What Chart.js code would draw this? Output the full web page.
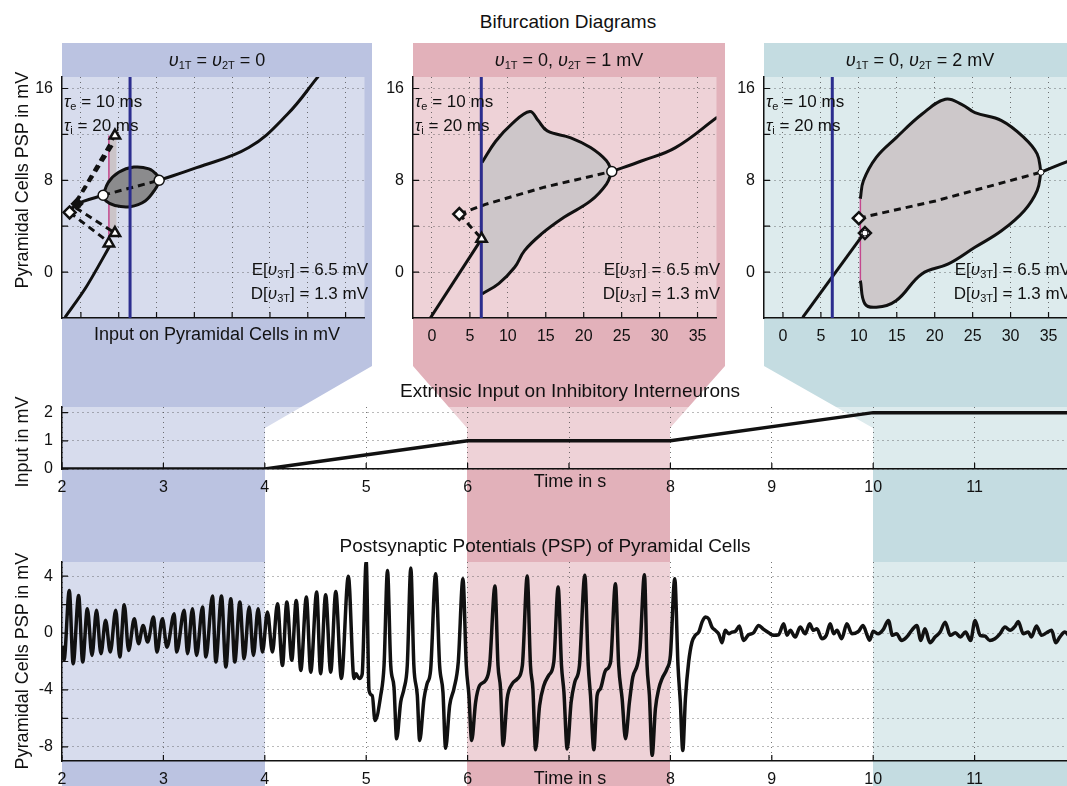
<!DOCTYPE html>
<html>
<head>
<meta charset="utf-8">
<script src="https://cdn.jsdelivr.net/npm/chart.js@4.4.0/dist/chart.umd.min.js"></script>
<style>
  body { margin: 0; width: 1067px; height: 786px; overflow: hidden; background: #fff; position: relative;
         font-family: "Liberation Sans", Arial, sans-serif; color: #111; }
  svg, canvas { position: absolute; }
  .t { position: absolute; white-space: nowrap; transform: translate(-50%, -50%); z-index: 3; }
  .r { position: absolute; white-space: nowrap; transform: translate(-50%, -50%) rotate(-90deg); z-index: 3; font-size: 18px; }
  .l { position: absolute; white-space: nowrap; z-index: 3; font-size: 17px; line-height: 20px; }
  sub { font-size: 11px; vertical-align: -3px; }
  .ttl { font-size: 19px; }
</style>
</head>
<body>

<!-- coloured bands linking the bifurcation panels to the time windows -->
<svg width="1090" height="786" style="left:0;top:0;z-index:0">
  <polygon points="62,43 372,43 372,366 265,428 265,786 62,786" fill="#bbc3e1"/>
  <polygon points="413,43 725,43 725,366 670,428 670,786 467,786 467,428 413,366" fill="#e2b1ba"/>
  <polygon points="764,43 1090,43 1090,786 873,786 873,428 764,366" fill="#c4dce1"/>
</svg>

<canvas id="bif1" width="351" height="291" style="left:22px;top:57px;z-index:1"></canvas>
<canvas id="bif2" width="352" height="291" style="left:373px;top:57px;z-index:1"></canvas>
<canvas id="bif3" width="352" height="291" style="left:724px;top:57px;z-index:1"></canvas>
<canvas id="input" width="1054" height="112" style="left:22px;top:387px;z-index:1"></canvas>
<canvas id="psp" width="1054" height="244" style="left:22px;top:542px;z-index:1"></canvas>

<div class="t ttl" style="left:568px;top:22px">Bifurcation Diagrams</div>
<div class="t" style="left:217px;top:60px;font-size:18px"><i>υ</i><sub>1T</sub> = <i>υ</i><sub>2T</sub> = 0</div>
<div class="t" style="left:569px;top:60px;font-size:18px"><i>υ</i><sub>1T</sub> = 0, <i>υ</i><sub>2T</sub> = 1 mV</div>
<div class="t" style="left:920px;top:60px;font-size:18px"><i>υ</i><sub>1T</sub> = 0, <i>υ</i><sub>2T</sub> = 2 mV</div>

<div class="l" style="left:64px;top:92px"><i>τ</i><sub>e</sub> = 10 ms<br><i>τ</i><sub>i</sub> = 20 ms</div>
<div class="l" style="left:415px;top:92px"><i>τ</i><sub>e</sub> = 10 ms<br><i>τ</i><sub>i</sub> = 20 ms</div>
<div class="l" style="left:766px;top:92px"><i>τ</i><sub>e</sub> = 10 ms<br><i>τ</i><sub>i</sub> = 20 ms</div>
<div class="l" style="right:699px;top:260px;text-align:right">E[<i>υ</i><sub>3T</sub>] = 6.5 mV<br>D[<i>υ</i><sub>3T</sub>] = 1.3 mV</div>
<div class="l" style="right:347px;top:260px;text-align:right">E[<i>υ</i><sub>3T</sub>] = 6.5 mV<br>D[<i>υ</i><sub>3T</sub>] = 1.3 mV</div>
<div class="l" style="left:1071px;top:260px;text-align:right;transform:translateX(-100%)">E[<i>υ</i><sub>3T</sub>] = 6.5 mV<br>D[<i>υ</i><sub>3T</sub>] = 1.3 mV</div>

<div class="t" style="left:217px;top:334px;font-size:18px">Input on Pyramidal Cells in mV</div>
<div class="r" style="left:22px;top:180px">Pyramidal Cells PSP in mV</div>

<div class="t ttl" style="left:570px;top:391px">Extrinsic Input on Inhibitory Interneurons</div>
<div class="r" style="left:22px;top:442px">Input in mV</div>
<div class="t" style="left:570px;top:481px;font-size:18px">Time in s</div>

<div class="t ttl" style="left:545px;top:546px">Postsynaptic Potentials (PSP) of Pyramidal Cells</div>
<div class="r" style="left:22px;top:661px">Pyramidal Cells PSP in mV</div>
<div class="t" style="left:570px;top:778px;font-size:18px">Time in s</div>

<script>
// ---- axes ----
const bifXTicks = [0, 5, 10, 15, 20, 25, 30, 35];
const bifYTicks = [0, 4, 8, 12, 16];
const timeTicks = [2, 3, 4, 5, 6, 7, 8, 9, 10, 11];
const inputYTicks = [0, 1, 2];
const pspYTicks = [-8, -6, -4, -2, 0, 2, 4];

// ---- extrinsic input on inhibitory interneurons ----
const inputTime = [2, 4, 6, 8, 10, 12];
const inputValue = [0, 0, 1, 1, 2, 2];

// ---- PSP of pyramidal cells, [time s, mV] ----
const pspPoints = [
  [2.0,-0.9],[2.02,-1.9],[2.072,3.0],[2.11,-2.16],[2.164,2.65],[2.204,-2.04],[2.25,1.71],[2.296,-1.57],
  [2.34,1.6],[2.384,-1.45],[2.43,0.9],[2.476,-1.34],[2.53,1.6],[2.57,-1.69],[2.614,2.0],[2.657,-1.22],
  [2.713,1.0],[2.755,-0.75],[2.80,0.54],[2.844,-0.63],[2.903,1.13],[2.936,-1.34],[2.99,1.0],[3.035,-0.99],
  [3.107,1.36],[3.13,-1.34],[3.205,1.6],[3.238,-1.45],[3.287,1.71],[3.327,-1.57],[3.386,1.83],[3.419,-1.69],
  [3.484,2.6],[3.517,-2.04],[3.573,2.6],[3.616,-2.39],[3.665,2.42],[3.704,-2.04],[3.754,2.18],[3.796,-1.81],
  [3.846,1.83],[3.888,-1.57],[3.934,1.71],[3.977,-1.34],[4.026,1.48],[4.075,-1.34],[4.125,2.07],[4.174,-2.28],
  [4.217,2.18],[4.266,-1.92],[4.31,2.3],[4.355,-2.63],[4.41,2.54],[4.453,-2.75],[4.512,2.89],[4.55,-2.86],
  [4.60,2.7],[4.65,-2.75],[4.70,2.93],[4.755,-3.2],[4.824,4.0],[4.88,-3.2],[4.90,-2.86],[4.93,-3.2],
  [4.96,-2.9],[5.0,5.05],[5.028,-4.04],[5.06,-4.4],[5.087,-6.15],[5.143,-4.4],[5.176,-2.28],[5.21,4.41],
  [5.242,-2.28],[5.274,-3.8],[5.30,-7.44],[5.34,-4.86],[5.373,-3.92],[5.405,-2.28],[5.44,4.58],[5.47,-2.28],
  [5.504,-4.39],[5.527,-7.56],[5.57,-4.62],[5.60,-3.57],[5.635,-2.63],[5.685,4.18],[5.724,-2.28],[5.757,-4.15],
  [5.783,-8.1],[5.823,-5.09],[5.865,-3.92],[5.908,-2.04],[5.954,3.83],[5.987,-2.28],[6.013,-4.39],[6.04,-7.56],
  [6.079,-4.86],[6.118,-3.69],[6.177,-3.33],[6.217,-2.28],[6.27,3.31],[6.30,-2.28],[6.325,-3.92],[6.35,-7.91],
  [6.39,-4.62],[6.44,-3.57],[6.49,-3.22],[6.54,-2.28],[6.588,4.01],[6.62,-2.28],[6.644,-3.92],[6.67,-8.2],
  [6.71,-5.09],[6.752,-3.69],[6.80,-2.98],[6.85,-2.04],[6.893,3.24],[6.926,-2.28],[6.95,-4.15],[6.982,-8.15],
  [7.021,-4.86],[7.057,-3.45],[7.103,-2.28],[7.156,4.06],[7.19,-2.28],[7.212,-4.39],[7.245,-8.2],[7.277,-4.39],
  [7.31,-3.92],[7.36,-2.63],[7.41,-2.04],[7.458,3.47],[7.49,-2.28],[7.524,-4.62],[7.557,-7.44],[7.596,-4.86],
  [7.629,-3.1],[7.672,-2.28],[7.70,-1.1],[7.744,4.11],[7.77,-2.28],[7.793,-4.39],[7.82,-8.6],[7.852,-5.33],
  [7.885,-3.92],[7.918,-3.2],[7.967,-2.5],[8.0,-1.57],[8.043,3.83],[8.075,-2.28],[8.098,-4.86],[8.122,-8.26],
  [8.148,-4.62],[8.18,-2.04],[8.213,-0.63],[8.246,-0.16],[8.28,0.07],[8.312,0.77],[8.345,1.13],[8.378,1.0],
  [8.41,0.42],[8.443,0.19],[8.476,-0.05],[8.51,-0.68],[8.54,0.19],[8.575,-0.05],[8.607,0.07],[8.64,0.12],
  [8.68,0.49],[8.72,-0.52],[8.77,-0.12],[8.82,0.02],[8.87,0.54],[8.92,0.26],[8.97,0.02],[9.018,-0.16],
  [9.067,-0.12],[9.117,0.66],[9.15,-0.16],[9.182,0.19],[9.231,-0.28],[9.28,0.42],[9.33,-0.05],[9.373,0.66],
  [9.41,0.19],[9.445,0.3],[9.494,-0.4],[9.537,-0.16],[9.576,0.66],[9.61,-0.05],[9.642,0.19],[9.69,-0.4],
  [9.74,0.66],[9.79,-0.05],[9.855,0.12],[9.9,0.54],[9.94,-0.16],[9.965,-0.5],[10.0,0.12],[10.05,-0.05],
  [10.1,0.26],[10.15,0.89],[10.19,-0.16],[10.23,-0.05],[10.28,-0.52],[10.33,-0.28],[10.38,0.19],[10.43,0.54],
  [10.47,-0.52],[10.51,0.3],[10.56,-0.68],[10.61,-0.28],[10.66,0.07],[10.71,0.77],[10.76,-0.16],[10.81,0.02],
  [10.86,-0.28],[10.91,0.07],[10.96,-0.52],[11.005,0.89],[11.054,-0.16],[11.1,-0.21],[11.15,-0.52],[11.2,-0.4],
  [11.25,-0.05],[11.3,0.42],[11.35,0.19],[11.4,0.49],[11.43,0.82],[11.48,-0.05],[11.53,0.07],[11.56,-0.28],
  [11.61,0.49],[11.66,-0.16],[11.71,0.02],[11.76,0.19],[11.8,-0.68],[11.84,-0.28],[11.89,0.07],[11.95,-0.3],[12.0,0.1]
];

// ---- bifurcation diagram, panel 1 (v1T = v2T = 0) ----
const p1Lower = [[-2.1,-3.95],[0.7,-1.3],[4.1,2.6]];
const p1LeftBranch = [[-1.5,5.2],[-0.5,5.95],[2.94,6.7]];
const p1Upper = [[10.35,8.0],[15.3,9.1],[22.2,10.85],[27.3,13.75],[31.2,16.9],[31.6,17.3]];
const p1Cycle = [[2.94,6.7],[3.6,7.8],[5.0,8.7],[7.0,9.15],[9.0,9.0],[10.0,8.5],[10.35,8.0],
                 [9.8,7.2],[8.5,6.2],[6.5,5.7],[4.5,5.8],[3.3,6.2],[2.94,6.7]];
const p1Unstable = [[2.94,6.7],[10.35,8.0]];
const p1DashUp1 = [[-1.5,5.2],[4.5,11.9]];
const p1DashUp2 = [[-0.6,6.1],[4.3,11.2]];
const p1DashDown1 = [[-1.5,5.2],[3.7,2.6]];
const p1DashDown2 = [[-0.7,5.6],[4.5,3.4]];
const p1Band = [[3.7,11.5],[4.7,11.5],[4.7,3.3],[3.7,3.3]];
const p1Pink = [[3.7,11.9],[3.7,2.6]];
const p1Triangles = [[4.5,11.9],[3.7,2.5],[4.5,3.4]];
const p1OpenDiamond = [[-1.5,5.2]];
const p1FullDiamond = [[-0.5,5.95]];
const p1Circles = [[2.94,6.7],[10.35,8.0]];

// ---- panel 2 (v2T = 1 mV) ----
const p2Lower = [[-0.8,-4.6],[6.54,2.9]];
const p2Upper = [[23.7,8.77],[27.7,9.7],[32.1,10.85],[37.6,13.5]];
const p2CycleTop = [[6.6,9.55],[8.4,11.4],[10.5,12.9],[12.9,14.0],[14.0,13.2],[15.2,12.3],[18.3,11.7],[20.9,10.85],[23.0,9.7],[23.7,8.77]];
const p2CycleBottom = [[6.6,-1.9],[8.8,-1.0],[10.9,0.42],[12.2,1.87],[14.4,3.3],[17.4,4.77],[20.9,6.2],[23.0,7.67],[23.7,8.77]];
const p2Unstable = [[3.6,5.06],[7.05,5.9],[14.8,7.4],[23.7,8.77]];
const p2DashDown = [[3.6,5.06],[6.54,2.9]];
const p2Pink = [[6.5,9.55],[6.5,-1.9]];
const p2Triangles = [[6.54,2.9]];
const p2Diamonds = [[3.6,5.06]];
const p2Circles = [[23.7,8.77]];

// ---- panel 3 (v2T = 2 mV) ----
const p3Lower = [[2.6,-3.95],[10.6,3.3]];
const p3Upper = [[34.0,8.7],[36.6,9.4],[38.5,9.9]];
const p3CycleTop = [[10.2,6.4],[10.6,7.96],[12.3,10.0],[14.9,11.7],[18.3,13.75],[21.4,15.06],[23.6,14.6],[25.3,13.9],[28.8,13.2],[31.8,11.7],[33.5,10.3],[34.0,8.7]];
const p3CycleBottom = [[10.2,-0.74],[10.8,-2.77],[12.3,-3.06],[14.9,-2.5],[18.3,-0.16],[21.8,0.71],[25.3,2.16],[28.8,3.6],[31.8,5.35],[33.5,7.1],[34.0,8.7]];
const p3Unstable = [[10.0,4.7],[20.1,6.2],[34.0,8.7]];
const p3Pink = [[10.2,6.4],[10.2,-0.74]];
const p3Diamonds = [[10.0,4.7],[10.8,3.4]];
const p3Circles = [[34.0,8.7],[10.8,3.4]];

const inputLevel = 6.5;   // blue line: input on pyramidal cells

const FONT = '"Liberation Sans", Arial, sans-serif';
const BLACK = '#111';
const BLUE = '#2b2d8e';
const PINK = '#c4488e';

// lighter tint of the plot area over the coloured bands
const tint = {
  id: 'tint',
  beforeDraw(chart) {
    const a = chart.chartArea, ctx = chart.ctx;
    ctx.save();
    ctx.fillStyle = 'rgba(255,255,255,0.42)';
    ctx.fillRect(a.left, a.top, a.right - a.left, a.bottom - a.top);
    ctx.restore();
  }
};

// matlab style ticks pointing into the axes
const inTicks = {
  id: 'inTicks',
  afterDraw(chart) {
    const {ctx, chartArea: a, scales: {x, y}} = chart;
    ctx.save();
    ctx.strokeStyle = BLACK;
    ctx.lineWidth = 1.2;
    ctx.beginPath();
    x.ticks.forEach(t => {
      const px = x.getPixelForValue(t.value);
      ctx.moveTo(px, a.bottom); ctx.lineTo(px, a.bottom - 6);
    });
    y.ticks.forEach(t => {
      const py = y.getPixelForValue(t.value);
      ctx.moveTo(a.left, py); ctx.lineTo(a.left + 6, py);
    });
    ctx.stroke();
    ctx.restore();
  }
};

function axis(min, max, ticks, label, size) {
  return {
    type: 'linear', min, max,
    afterBuildTicks: s => { s.ticks = ticks.map(v => ({value: v})); },
    afterFit: s => { if (s.isHorizontal()) s.height = size; else s.width = size; },
    grid: {color: 'rgba(70,70,70,0.75)', lineWidth: 1, drawTicks: false},
    border: {display: true, color: BLACK, width: 1.5, dash: [1, 4]},
    ticks: {padding: 9, color: BLACK, font: {family: FONT, size: 16}, callback: label,
            maxRotation: 0, autoSkip: false}
  };
}

const xy = pts => pts.map(p => ({x: p[0], y: p[1]}));

function curve(pts, opt) {
  return Object.assign({data: xy(pts), borderColor: BLACK, borderWidth: 3, pointRadius: 0,
                        tension: 0, fill: false}, opt);
}
function marks(pts, style, opt) {
  return Object.assign({data: xy(pts), showLine: false, pointStyle: style, pointRadius: 6,
                        pointBackgroundColor: '#fff', pointBorderColor: BLACK, pointBorderWidth: 2.5}, opt);
}
const dashed = pts => curve(pts, {borderDash: [7, 5]});
const blueLine = () => curve([[inputLevel, -4], [inputLevel, 17]], {borderColor: BLUE, borderWidth: 3});

// datasets listed bottom layer first
function layered(list) {
  return list.map((d, i) => Object.assign(d, {order: list.length - i}));
}

const baseOptions = {
  responsive: false, animation: false, devicePixelRatio: 1,
  layout: {padding: {top: 20}},
  plugins: {legend: {display: false}, tooltip: {enabled: false}}
};

function bifChart(id, datasets, xLabel) {
  return new Chart(document.getElementById(id), {
    type: 'line',
    data: {datasets: layered(datasets)},
    options: Object.assign({}, baseOptions, {
      scales: {
        x: axis(-2.5, 37.5, bifXTicks, xLabel, 30),
        y: axis(-4, 17, bifYTicks, v => (v % 8 === 0 ? v : ''), 40)
      }
    }),
    plugins: [tint, inTicks]
  });
}

bifChart('bif1', [
  curve(p1Band, {fill: 'shape', backgroundColor: '#cbc4c8', borderWidth: 0}),
  curve(p1Pink, {borderColor: PINK, borderWidth: 1.5}),
  curve(p1Cycle, {fill: 'shape', backgroundColor: '#8b8b8d', tension: 0.35}),
  dashed(p1Unstable), dashed(p1DashUp1), dashed(p1DashUp2), dashed(p1DashDown1), dashed(p1DashDown2),
  curve(p1Lower, {tension: 0.3}), curve(p1LeftBranch, {tension: 0.3}), curve(p1Upper, {tension: 0.4}),
  blueLine(),
  marks(p1Triangles, 'triangle'),
  marks(p1OpenDiamond, 'rectRot'),
  marks(p1FullDiamond, 'rectRot', {pointBackgroundColor: BLACK, pointRadius: 5}),
  marks(p1Circles, 'circle', {pointRadius: 5, pointBorderWidth: 1.5})
], () => '');

bifChart('bif2', [
  curve(p2CycleTop.concat(p2CycleBottom.slice().reverse()), {fill: 'shape', backgroundColor: '#cdc6c9', borderWidth: 0, tension: 0.4}),
  curve(p2Pink, {borderColor: PINK, borderWidth: 2}),
  curve(p2CycleTop, {tension: 0.4}), curve(p2CycleBottom, {tension: 0.4}),
  dashed(p2Unstable), dashed(p2DashDown),
  curve(p2Lower), curve(p2Upper, {tension: 0.4}),
  blueLine(),
  marks(p2Triangles, 'triangle'),
  marks(p2Diamonds, 'rectRot'),
  marks(p2Circles, 'circle', {pointRadius: 5, pointBorderWidth: 1.5})
], v => v);

bifChart('bif3', [
  curve(p3CycleTop.concat(p3CycleBottom.slice().reverse()), {fill: 'shape', backgroundColor: '#cdc8ca', borderWidth: 0, tension: 0.4}),
  curve(p3Pink, {borderColor: PINK, borderWidth: 1.5}),
  curve(p3CycleTop, {tension: 0.4}), curve(p3CycleBottom, {tension: 0.4}),
  dashed(p3Unstable),
  curve(p3Lower), curve(p3Upper, {tension: 0.4}),
  blueLine(),
  marks(p3Diamonds, 'rectRot'),
  marks(p3Circles, 'circle', {pointRadius: 3, pointBorderWidth: 1})
], v => v);

const timeLabel = v => (v === 7 ? '' : v);

new Chart(document.getElementById('input'), {
  type: 'line',
  data: {datasets: [{
    data: inputTime.map((t, i) => ({x: t, y: inputValue[i]})),
    borderColor: BLACK, borderWidth: 3.5, pointRadius: 0, tension: 0, fill: false
  }]},
  options: Object.assign({}, baseOptions, {
    scales: {
      x: axis(2, 12, timeTicks, timeLabel, 30),
      y: axis(0, 2.2, inputYTicks, v => v, 40)
    }
  }),
  plugins: [tint, inTicks]
});

new Chart(document.getElementById('psp'), {
  type: 'line',
  data: {datasets: [{
    data: xy(pspPoints),
    borderColor: BLACK, borderWidth: 3.5, pointRadius: 0, cubicInterpolationMode: 'monotone', fill: false
  }]},
  options: Object.assign({}, baseOptions, {
    scales: {
      x: axis(2, 12, timeTicks, timeLabel, 25),
      y: axis(-9, 5, pspYTicks, v => (v % 4 === 0 ? v : ''), 40)
    }
  }),
  plugins: [tint, inTicks]
});
</script>
</body>
</html>
